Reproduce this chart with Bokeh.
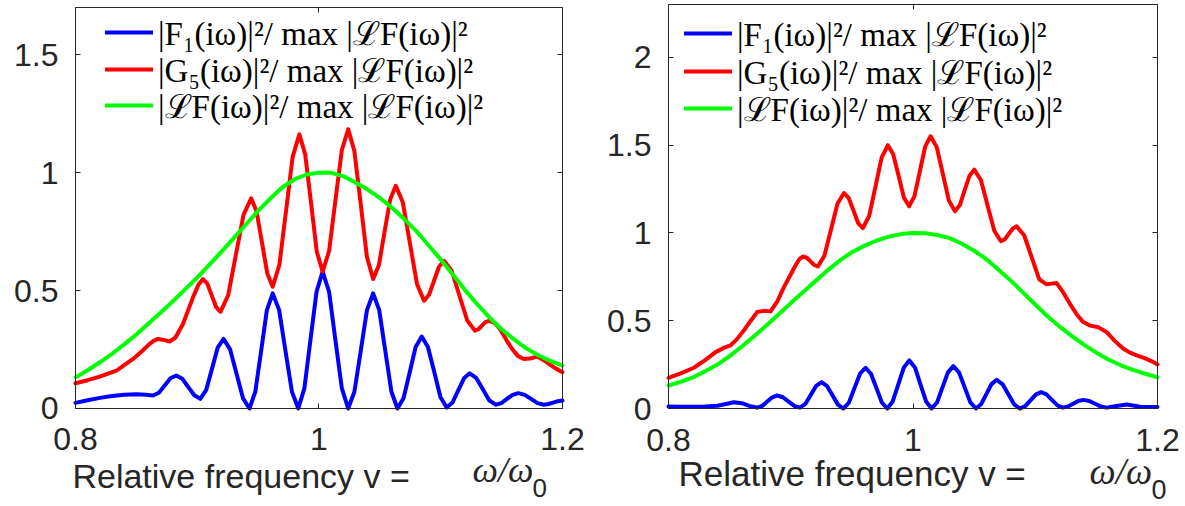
from bokeh.plotting import figure
from bokeh.models import Range1d, LinearAxis, FixedTicker, Legend, LegendItem, Label
from bokeh.layouts import row
from bokeh.embed import file_html
from bokeh.resources import INLINE

# ---------------- data ----------------
x_ticks = [0.8, 1.0, 1.2]
x_tick_labels = ["0.8", "1", "1.2"]
L_y_ticks = [0, 0.5, 1, 1.5]
L_y_tick_labels = ["0", "0.5", "1", "1.5"]
R_y_ticks = [0, 0.5, 1, 1.5, 2]
R_y_tick_labels = ["0", "0.5", "1", "1.5", "2"]
x_limits = (0.8, 1.2)
L_y_limits = (0, 1.7)
R_y_limits = (0, 2.3)

legend_labels = [
    "|F\u2081(i\u03c9)|\u00b2/ max |\u2112F(i\u03c9)|\u00b2",
    "|G\u2085(i\u03c9)|\u00b2/ max |\u2112F(i\u03c9)|\u00b2",
    "|\u2112F(i\u03c9)|\u00b2/ max |\u2112F(i\u03c9)|\u00b2",
]
xlabel_text = "Relative frequency v ="
xlabel_math = "\u03c9/\u03c9"
xlabel_sub = "0"

# Left panel
L_blue_x = [0.800, 0.810, 0.820, 0.830, 0.840, 0.850, 0.858, 0.8637, 0.8685, 0.8733, 0.8780, 0.8828,
            0.8877, 0.8927, 0.8976, 0.9025, 0.9073, 0.9121, 0.9168, 0.9216, 0.9269, 0.9323, 0.9376,
            0.9429, 0.9477, 0.9525, 0.9572, 0.9620, 0.9673, 0.9725, 0.9778, 0.9830, 0.9880, 0.9930,
            0.9980, 1.0030, 1.0083, 1.0135, 1.0188, 1.0240, 1.0291, 1.0343, 1.0394, 1.0445, 1.0495,
            1.0545, 1.0595, 1.0645, 1.0695, 1.0745, 1.0794, 1.0844, 1.0895, 1.0947, 1.0998, 1.1049,
            1.1096, 1.1144, 1.1191, 1.1238, 1.1291, 1.1345, 1.1398, 1.1451, 1.1498, 1.1544, 1.1591,
            1.1637, 1.1690, 1.1742, 1.1795, 1.1847, 1.1885, 1.1924, 1.1962, 1.2000]
L_blue_y = [0.024, 0.035, 0.045, 0.053, 0.058, 0.060, 0.058, 0.055, 0.067, 0.0975, 0.128, 0.140,
            0.126, 0.0905, 0.056, 0.041, 0.078, 0.168, 0.258, 0.295, 0.252, 0.1475, 0.043,
            0.000, 0.071, 0.244, 0.417, 0.488, 0.417, 0.244, 0.071, 0.000, 0.085, 0.290,
            0.495, 0.580, 0.495, 0.290, 0.085, 0.000, 0.071, 0.244, 0.417, 0.488, 0.417,
            0.244, 0.071, 0.000, 0.0445, 0.1525, 0.2605, 0.305, 0.261, 0.1545, 0.048, 0.004,
            0.025, 0.0765, 0.128, 0.149, 0.130, 0.0825, 0.035, 0.016, 0.023, 0.0405, 0.058,
            0.065, 0.058, 0.0405, 0.023, 0.016, 0.019, 0.025, 0.031, 0.034]

L_red_x = [0.800, 0.810, 0.8199, 0.8336, 0.8473, 0.855, 0.8609, 0.8645, 0.8678, 0.8725, 0.8773,
           0.882, 0.8883, 0.8965, 0.901, 0.9047, 0.9083, 0.9119, 0.9155, 0.9191, 0.9254, 0.9317,
           0.9380, 0.9443, 0.9487, 0.9532, 0.9576, 0.9620, 0.9675, 0.9730, 0.9784, 0.9839, 0.9887,
           0.9935, 0.9982, 1.0030, 1.0083, 1.0135, 1.0188, 1.0240, 1.0291, 1.0343, 1.0394, 1.0445,
           1.0492, 1.0538, 1.0585, 1.0631, 1.0689, 1.0747, 1.0805, 1.0863, 1.0904, 1.0945, 1.0986,
           1.1027, 1.1091, 1.1154, 1.1218, 1.1281, 1.1310, 1.1339, 1.1367, 1.1396, 1.1445, 1.1490,
           1.1540, 1.1590, 1.1635, 1.1683, 1.1735, 1.1793, 1.1850, 1.1900, 1.1950, 1.2000]
L_red_y = [0.107, 0.120, 0.135, 0.161, 0.210, 0.245, 0.274, 0.288, 0.295, 0.291, 0.284,
           0.300, 0.358, 0.471, 0.525, 0.549, 0.529, 0.4795, 0.430, 0.410, 0.480, 0.6505,
           0.821, 0.891, 0.836, 0.7035, 0.571, 0.516, 0.610, 0.839, 1.068, 1.162, 1.077,
           0.871, 0.665, 0.580, 0.668, 0.882, 1.096, 1.184, 1.091, 0.8665, 0.642, 0.549,
           0.607, 0.7465, 0.886, 0.944, 0.873, 0.7005, 0.528, 0.457, 0.482, 0.5415, 0.601,
           0.626, 0.583, 0.478, 0.373, 0.330, 0.336, 0.351, 0.366, 0.372, 0.362, 0.335,
           0.290, 0.250, 0.222, 0.210, 0.212, 0.220, 0.204, 0.185, 0.168, 0.154]

L_green_x = [0.80, 0.81, 0.82, 0.83, 0.84, 0.85, 0.86, 0.87, 0.88, 0.89, 0.90, 0.91, 0.92, 0.93,
             0.94, 0.95, 0.96, 0.97, 0.98, 0.99, 1.00, 1.01, 1.02, 1.03, 1.04, 1.05, 1.06, 1.07,
             1.08, 1.09, 1.10, 1.11, 1.12, 1.13, 1.14, 1.15, 1.16, 1.17, 1.18, 1.19, 1.20]
L_green_y = [0.132, 0.162, 0.196, 0.232, 0.272, 0.314, 0.360, 0.407, 0.455, 0.505, 0.555, 0.610,
             0.665, 0.722, 0.780, 0.838, 0.890, 0.938, 0.972, 0.992, 1.000, 0.999, 0.985, 0.958,
             0.928, 0.893, 0.851, 0.803, 0.752, 0.692, 0.632, 0.568, 0.502, 0.442, 0.386, 0.336,
             0.294, 0.256, 0.226, 0.202, 0.182]

# Right panel
R_blue_x = [0.800, 0.810, 0.820, 0.830, 0.840, 0.847, 0.8534, 0.860, 0.866, 0.8726, 0.8767, 0.8808,
            0.8848, 0.8889, 0.8936, 0.8982, 0.9029, 0.9075, 0.9119, 0.9164, 0.9208, 0.9252, 0.9297,
            0.9341, 0.9386, 0.9430, 0.9476, 0.9521, 0.9567, 0.9612, 0.9656, 0.9701, 0.9745, 0.9789,
            0.9834, 0.9880, 0.9925, 0.9970, 1.0016, 1.0061, 1.0107, 1.0152, 1.0197, 1.0241, 1.0286,
            1.0330, 1.0376, 1.0423, 1.0469, 1.0515, 1.0557, 1.0600, 1.0642, 1.0684, 1.0732, 1.0780,
            1.0827, 1.0875, 1.0918, 1.0961, 1.1004, 1.1047, 1.1092, 1.1136, 1.1181, 1.1225, 1.1267,
            1.1310, 1.1352, 1.1394, 1.1442, 1.1489, 1.1537, 1.1584, 1.1665, 1.1748, 1.1810, 1.1857,
            1.1930, 1.2000]
R_blue_y = [0.011, 0.010, 0.010, 0.011, 0.016, 0.026, 0.036, 0.030, 0.015, 0.005, 0.015, 0.0395,
            0.064, 0.074, 0.064, 0.0395, 0.015, 0.005, 0.026, 0.0775, 0.129, 0.150, 0.128,
            0.075, 0.022, 0.000, 0.034, 0.116, 0.198, 0.232, 0.198, 0.116, 0.034, 0.000,
            0.040, 0.137, 0.234, 0.274, 0.234, 0.137, 0.040, 0.000, 0.035, 0.1205, 0.206,
            0.241, 0.206, 0.1205, 0.035, 0.000, 0.024, 0.0815, 0.139, 0.163, 0.139, 0.0815,
            0.024, 0.000, 0.0136, 0.0465, 0.079, 0.093, 0.080, 0.049, 0.018, 0.005, 0.011,
            0.027, 0.043, 0.049, 0.043, 0.027, 0.011, 0.005, 0.014, 0.023, 0.016, 0.010,
            0.008, 0.008]

R_red_x = [0.800, 0.810, 0.8207, 0.830, 0.8385, 0.845, 0.8508, 0.856, 0.8616, 0.867, 0.8726, 0.878,
           0.8835, 0.889, 0.8944, 0.899, 0.9035, 0.907, 0.9102, 0.9132, 0.9162, 0.9192, 0.9222,
           0.9275, 0.9329, 0.9382, 0.9435, 0.9474, 0.9513, 0.9551, 0.9590, 0.9641, 0.9693, 0.9744,
           0.9795, 0.9838, 0.9882, 0.9925, 0.9968, 1.0012, 1.0056, 1.0100, 1.0144, 1.0194, 1.0244,
           1.0293, 1.0343, 1.0383, 1.0422, 1.0462, 1.0501, 1.0556, 1.0610, 1.0665, 1.0719, 1.0751,
           1.0784, 1.0816, 1.0848, 1.0910, 1.0971, 1.1033, 1.1094, 1.1135, 1.1175, 1.1220, 1.1284,
           1.1340, 1.1393, 1.1450, 1.1516, 1.1584, 1.1650, 1.1721, 1.1775, 1.1830, 1.1900, 1.1950,
           1.2000]
R_red_y = [0.175, 0.200, 0.232, 0.275, 0.321, 0.345, 0.359, 0.395, 0.444, 0.497, 0.549, 0.556,
           0.553, 0.610, 0.691, 0.750, 0.810, 0.850, 0.866, 0.858, 0.8375, 0.817, 0.809,
           0.870, 1.018, 1.166, 1.227, 1.198, 1.127, 1.056, 1.027, 1.096, 1.263, 1.430,
           1.499, 1.448, 1.325, 1.202, 1.151, 1.209, 1.3505, 1.492, 1.550, 1.488, 1.3365,
           1.185, 1.123, 1.158, 1.2415, 1.325, 1.360, 1.300, 1.156, 1.012, 0.952, 0.964,
           0.9945, 1.025, 1.037, 0.985, 0.860, 0.735, 0.707, 0.711, 0.714, 0.670, 0.596,
           0.535, 0.492, 0.472, 0.463, 0.435, 0.385, 0.340, 0.318, 0.302, 0.285, 0.270,
           0.251]

R_green_x = L_green_x
R_green_y = [0.131, 0.152, 0.177, 0.212, 0.250, 0.298, 0.353, 0.411, 0.472, 0.535, 0.600, 0.662,
             0.725, 0.786, 0.842, 0.890, 0.926, 0.955, 0.978, 0.993, 0.999, 0.998, 0.988, 0.970,
             0.938, 0.898, 0.850, 0.790, 0.728, 0.660, 0.592, 0.525, 0.466, 0.412, 0.362, 0.318,
             0.278, 0.246, 0.220, 0.198, 0.178]

# ---------------- styling ----------------
AX = "#262626"
TICK_FONT = "Liberation Sans"
COLORS = ["#0000ff", "#ff0000", "#00ff00"]
H = 504          # canvas height (whole canvas is the plotting frame)
ROW_H = 46       # legend row height


def style_axis(ax, ticks, labels, show, standoff=0):
    ax.ticker = FixedTicker(ticks=ticks)
    ax.axis_line_color = AX
    ax.axis_line_width = 1
    ax.major_tick_line_color = AX
    ax.major_tick_in = 5
    ax.major_tick_out = 0
    ax.minor_tick_line_color = None
    if show:
        ax.major_label_overrides = {t: s for t, s in zip(ticks, labels)}
        ax.major_label_text_font = TICK_FONT
        ax.major_label_text_font_size = "32px"
        ax.major_label_text_color = AX
        ax.major_label_standoff = standoff
    else:
        ax.major_label_overrides = {t: "" for t in ticks}
        ax.major_label_text_font_size = "1px"
        ax.major_label_standoff = 0


def make_panel(width, x_rng, y_rng, ylim, yticks, ylabels, series, leg_pos, lab_pos):
    p = figure(width=width, height=H, x_range=Range1d(*x_rng), y_range=Range1d(*y_rng),
               output_backend="svg", toolbar_location=None, x_axis_type=None, y_axis_type=None,
               min_border=0)
    p.outline_line_color = None
    p.background_fill_color = "white"
    p.border_fill_color = "white"

    bottom = LinearAxis(fixed_location=ylim[0], bounds=x_limits)
    style_axis(bottom, x_ticks, x_tick_labels, True, standoff=20)
    p.add_layout(bottom, "below")
    left = LinearAxis(fixed_location=x_limits[0], bounds=ylim)
    style_axis(left, yticks, ylabels, True, standoff=17)
    p.add_layout(left, "left")
    top = LinearAxis(fixed_location=ylim[1], bounds=x_limits)
    style_axis(top, x_ticks, x_tick_labels, False)
    p.add_layout(top, "above")
    right = LinearAxis(fixed_location=x_limits[1], bounds=ylim)
    style_axis(right, yticks, ylabels, False)
    p.add_layout(right, "right")

    for (xs, ys), c, lab, loc in zip(series, COLORS, legend_labels, leg_pos):
        r = p.line(xs, ys, line_color=c, line_width=4, line_join="round", line_cap="round")
        leg = Legend(items=[LegendItem(label=lab, renderers=[r])], location=loc,
                     padding=0, margin=0, spacing=0,
                     glyph_width=48, glyph_height=ROW_H, label_height=ROW_H, label_standoff=5,
                     border_line_color=None, background_fill_alpha=0,
                     label_text_font="Liberation Serif", label_text_font_size="33px",
                     label_text_color="black")
        p.add_layout(leg)

    # x-axis title pieces (y = vertical centre of each text)
    (tx, ty, ts), (mx, my, ms), (sx, sy, ss) = lab_pos
    p.add_layout(Label(x=tx, y=ty, text=xlabel_text, text_font=TICK_FONT, text_font_size=ts,
                       text_color=AX, text_baseline="middle", text_align="left"))
    p.add_layout(Label(x=mx, y=my, text=xlabel_math, text_font="Liberation Serif",
                       text_font_style="italic", text_font_size=ms,
                       text_color=AX, text_baseline="middle", text_align="left"))
    p.add_layout(Label(x=sx, y=sy, text=xlabel_sub, text_font=TICK_FONT, text_font_size=ss,
                       text_color=AX, text_baseline="middle", text_align="left"))
    return p


# legend locations: (px from canvas left, px from canvas bottom)
p1 = make_panel(607, (0.7384, 1.2370), (-0.4070, 1.7297), L_y_limits, L_y_ticks, L_y_tick_labels,
                [(L_blue_x, L_blue_y), (L_red_x, L_red_y), (L_green_x, L_green_y)],
                [(105, 449), (105, 412), (105, 376)],
                ((0.7975, -0.285, "34px"), (1.1261, -0.2622, "36px"), (1.1754, -0.339, "26px")))
p2 = make_panel(578, (0.7501, 1.2229), (-0.5465, 2.3228), R_y_limits, R_y_ticks, R_y_tick_labels,
                [(R_blue_x, R_blue_y), (R_red_x, R_red_y), (R_green_x, R_green_y)],
                [(77, 448), (77, 410), (77, 373)],
                ((0.8082, -0.370, "35px"), (1.1444, -0.3558, "37px"), (1.1951, -0.459, "27px")))

layout = row(p1, p2)
open("out.html", "w").write(file_html(layout, INLINE))
